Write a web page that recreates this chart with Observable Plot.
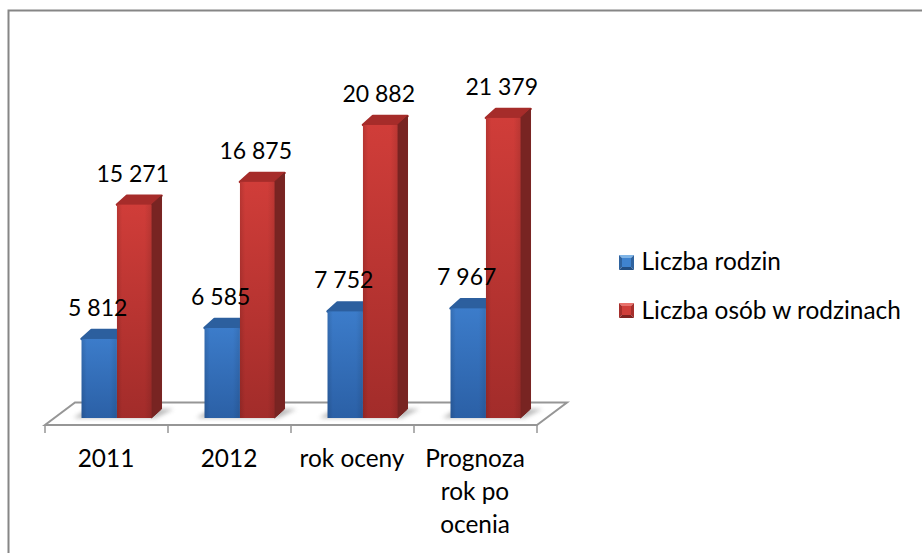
<!DOCTYPE html>
<html><head><meta charset="utf-8">
<script src="https://cdn.jsdelivr.net/npm/d3@7"></script>
<script src="https://cdn.jsdelivr.net/npm/@observablehq/plot@0.6"></script>
<style>html,body{margin:0;padding:0;background:#fff}svg{display:block}</style>
</head><body><div id="chart"></div>
<script>
const categories = ["2011", "2012", "rok oceny", "Prognoza\nrok po\nocenia"];
const liczbaRodzin = [5812, 6585, 7752, 7967];
const liczbaOsob = [15271, 16875, 20882, 21379];
const seriesNames = ["Liczba rodzin", "Liczba osób w rodzinach"];
const fmt = v => d3.format(",")(v).replace(",", " ");

const FONT = "Lato, 'Open Sans', sans-serif";
const BLUE_FROM = 0.297, MID = 0.585, RED_TO = 0.866;
const BASE = 246;
const idx = categories.map((_, i) => i);
const rows = idx.map(i => ({i, cat: categories[i], blue: liczbaRodzin[i], red: liczbaOsob[i]}));

const defs = () => {
  const d = d3.create("svg:defs");
  const grad = (id, a, b) => {
    const g = d.append("linearGradient").attr("id", id).attr("x1", 0).attr("y1", 0).attr("x2", 0).attr("y2", 1);
    g.append("stop").attr("offset", 0).attr("stop-color", a);
    g.append("stop").attr("offset", 1).attr("stop-color", b);
  };
  grad("gBlue", "#3c7cca", "#2b60a6");
  grad("gRed", "#d03d39", "#a22c2a");
  const h = d.append("linearGradient").attr("id", "gEdge").attr("x1", 0).attr("y1", 0).attr("x2", 1).attr("y2", 0);
  [[0, "#000", 0.12], [0.15, "#000", 0], [0.8, "#000", 0], [1, "#000", 0.1]].forEach(([o, c, a]) =>
    h.append("stop").attr("offset", o).attr("stop-color", c).attr("stop-opacity", a));
  d.append("filter").attr("id", "blur").attr("x", "-30%").attr("y", "-60%").attr("width", "160%").attr("height", "220%")
    .append("feGaussianBlur").attr("stdDeviation", 2.2);
  return d.node();
};

const path = (g, pts, fill, extra = {}) => {
  const p = g.append("path").attr("d", "M" + pts.map(q => q.join(",")).join("L") + "Z").attr("fill", fill);
  for (const k in extra) p.attr(k, extra[k]);
  return p;
};

// Floor of the pseudo 3D chart, drawn through the scales
const floor = (index, {x, y}) => {
  const g = d3.create("svg:g");
  const x0 = x(0), x1 = x(categories.length), yf = y(0) + 3.5, yb = y(0) - 19, d = 30;
  path(g, [[x0, yf], [x1, yf], [x1 + d, yb], [x0 + d, yb]], "#fff", {stroke: "#969696", "stroke-width": 2});
  for (let i = 0; i <= categories.length; i++)
    g.append("line").attr("x1", x(i)).attr("x2", x(i)).attr("y1", yf).attr("y2", yf + 8)
      .attr("stroke", "#969696").attr("stroke-width", 1.5);
  // soft shadows on the floor
  for (const r of rows) {
    const a = x(r.i + BLUE_FROM), b = x(r.i + RED_TO), yy = y(BASE);
    path(g, [[a - 8, yy], [b + 4, yy], [b + 22, yy - 9], [a + 6, yy - 9]], "#8c8c8c", {filter: "url(#blur)", opacity: 0.6});
  }
  return g.node();
};

// Depth faces of the columns
const depth = (index, {x, y}) => {
  const g = d3.create("svg:g").attr("stroke-linejoin", "round");
  const dx = 10, dy = 9;
  for (const r of rows) {
    const a = x(r.i + BLUE_FROM), m = x(r.i + MID), b = x(r.i + RED_TO);
    const yb = y(r.blue), yr = y(r.red), y0 = y(BASE);
    path(g, [[a, yb], [m, yb], [m + dx, yb - dy], [a + dx, yb - dy]], "#2c5f9e", {stroke: "#2c5f9e", "stroke-width": 2.5});
    path(g, [[m, yr], [b, yr], [b + dx, yr - dy], [m + dx, yr - dy]], "#a62c2a", {stroke: "#a62c2a", "stroke-width": 2.5});
    path(g, [[b, yr], [b + dx, yr - dy], [b + dx, y0 - dy], [b, y0]], "#782422", {stroke: "#782422", "stroke-width": 1});
  }
  return g.node();
};

// Legend swatches
const swatch = () => {
  const g = d3.create("svg:g");
  const draw = (l, t, s, top, side, bot, mid) => {
    const r = l + s, b = t + s, i = 3;
    path(g, [[l, t], [r, t], [r - i, t + i], [l + i, t + i]], top);
    path(g, [[l, t], [l + i, t + i], [l + i, b - i], [l, b]], side);
    path(g, [[r, t], [r - i, t + i], [r - i, b - i], [r, b]], side);
    path(g, [[l, b], [r, b], [r - i, b - i], [l + i, b - i]], bot);
    g.append("rect").attr("x", l + i).attr("y", t + i).attr("width", s - 2 * i).attr("height", s - 2 * i).attr("fill", mid);
  };
  draw(619, 255, 15, "#7fb4e6", "#2f639f", "#234f83", "#3f83cf");
  draw(619, 303, 15, "#e8726c", "#a62f2c", "#7f2321", "#cf3f3a");
  return g.node();
};

const legendText = (i, dy) => Plot.text([seriesNames[i]], {
  text: d => d, frameAnchor: "top-left", dx: 641, dy, textAnchor: "start", lineAnchor: "middle",
  fontSize: 24.4, fill: "#000", fontFamily: FONT
});

const chart = Plot.plot({
  width: 922, height: 553,
  marginTop: 0, marginRight: 0, marginBottom: 0, marginLeft: 0,
  x: {type: "linear", domain: [0, categories.length], range: [45, 537], axis: null},
  y: {type: "linear", domain: [0, 25000], range: [421.5, 66.5], axis: null},
  marks: [
    defs,
    Plot.frame({stroke: "#868686", strokeWidth: 2, insetLeft: 8, insetTop: 10, insetRight: -6, insetBottom: -6}),
    floor,
    depth,
    Plot.rectY(rows, {x1: d => d.i + BLUE_FROM, x2: d => d.i + MID, y1: BASE, y2: "blue", fill: "url(#gBlue)"}),
    Plot.rectY(rows, {x1: d => d.i + BLUE_FROM, x2: d => d.i + MID, y1: BASE, y2: "blue", fill: "url(#gEdge)"}),
    Plot.rectY(rows, {x1: d => d.i + MID, x2: d => d.i + RED_TO, y1: BASE, y2: "red", fill: "url(#gRed)"}),
    Plot.rectY(rows, {x1: d => d.i + MID, x2: d => d.i + RED_TO, y1: BASE, y2: "red", fill: "url(#gEdge)"}),
    Plot.text(rows, {x: d => d.i + (BLUE_FROM + MID) / 2, y: "blue", text: d => fmt(d.blue), dx: -2, dy: -31,
      fontSize: 23, fill: "#000", fontFamily: FONT}),
    Plot.text(rows, {x: d => d.i + (MID + RED_TO) / 2, y: "red", text: d => fmt(d.red), dx: -2, dy: -31,
      fontSize: 23, fill: "#000", fontFamily: FONT}),
    Plot.text(rows, {x: d => d.i + 0.5, y: 0, text: "cat", dx: -1, dy: 22, lineAnchor: "top", lineHeight: 1.34,
      fontSize: 24.4, fill: "#000", fontFamily: FONT}),
    swatch,
    legendText(0, 262),
    legendText(1, 311)
  ]
});
document.getElementById("chart").append(chart);
</script></body></html>
